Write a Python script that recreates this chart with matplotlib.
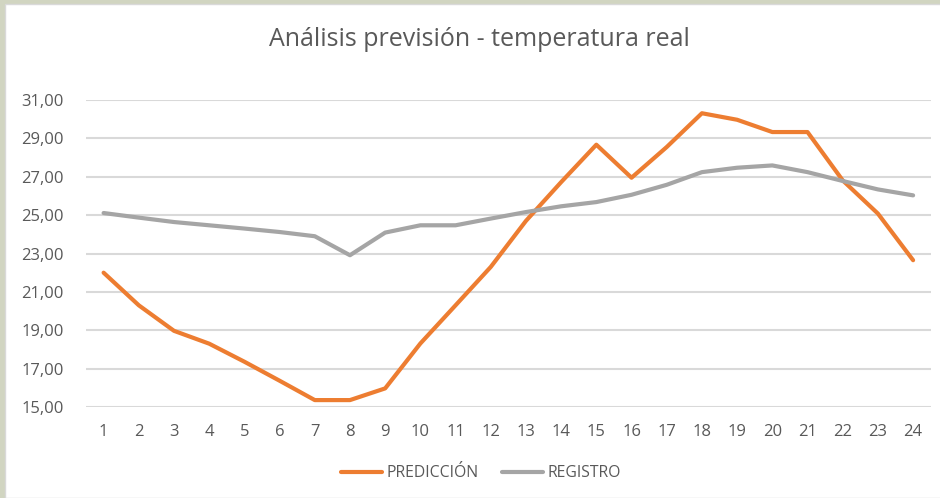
import matplotlib.pyplot as plt
from matplotlib.patches import Rectangle
from matplotlib.ticker import FuncFormatter

plt.rcParams['font.family'] = ['Open Sans', 'DejaVu Sans']

# datos
horas = list(range(1, 25))
prediccion = [22.0, 20.3, 18.97, 18.3, 17.36, 16.37, 15.36, 15.36, 15.97, 18.31, 20.3, 22.3,
              24.7, 26.72, 28.67, 26.95, 28.55, 30.31, 29.97, 29.33, 29.33, 26.81, 25.08, 22.65]
registro = [25.11, 24.87, 24.64, 24.47, 24.3, 24.12, 23.9, 22.91, 24.09, 24.47, 24.47, 24.82,
            25.16, 25.46, 25.68, 26.06, 26.58, 27.24, 27.47, 27.59, 27.24, 26.78, 26.34, 26.03]
yticks = [15, 17, 19, 21, 23, 25, 27, 29, 31]

txt = '#595959'

fig = plt.figure(figsize=(9.4, 4.98), dpi=100, facecolor='#D1D5C1')
# fondo blanco del gráfico
fig.patches.append(Rectangle((5 / 940, 0), 1, 1 - 4 / 498, transform=fig.transFigure,
                             facecolor='white', edgecolor='#D9D9D9', linewidth=1, zorder=-1))

ax = fig.add_axes([86 / 940, 91 / 498, 844.7 / 940, 307 / 498])
ax.set_facecolor('none')

ax.plot(horas, prediccion, color='#ED7D31', linewidth=3, label='PREDICCIÓN',
        solid_joinstyle='round', solid_capstyle='round', zorder=3)
ax.plot(horas, registro, color='#A5A5A5', linewidth=3, label='REGISTRO',
        solid_joinstyle='round', solid_capstyle='round', zorder=3)

ax.set_xlim(0.5, 24.5)
ax.set_ylim(15, 31)
ax.set_xticks(horas)
ax.set_yticks(yticks)
ax.yaxis.set_major_formatter(FuncFormatter(lambda v, p: f'{v:.2f}'.replace('.', ',')))
ax.tick_params(axis='both', length=0, labelsize=12, labelcolor=txt)
ax.tick_params(axis='y', pad=16)
ax.tick_params(axis='x', pad=12)
ax.grid(axis='y', color='#D9D9D9', linewidth=1.5)
ax.set_axisbelow(True)
for s in ax.spines.values():
    s.set_visible(False)

fig.text(479 / 940, 1 - 40 / 498, 'Análisis previsión - temperatura real', ha='center', va='center',
         fontsize=18, color=txt)

leg = fig.legend(loc='center', bbox_to_anchor=(481 / 940, 1 - 473 / 498), ncol=2, frameon=False,
                 fontsize=11.3, handlelength=2.6, handletextpad=0.3, columnspacing=1.5)
for t in leg.get_texts():
    t.set_color(txt)

fig.savefig('out.png', dpi=100, facecolor=fig.get_facecolor())
